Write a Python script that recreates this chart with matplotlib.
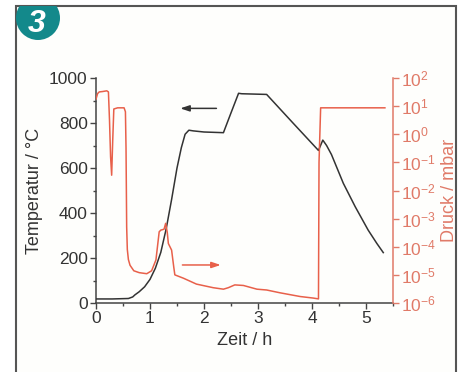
import math

import matplotlib

matplotlib.use("Agg")
import matplotlib.pyplot as plt
from matplotlib.patches import Circle, Rectangle
from matplotlib.ticker import FixedLocator, FuncFormatter, MultipleLocator

plt.rcParams["font.family"] = ["Liberation Sans", "DejaVu Sans"]
plt.rcParams["mathtext.fontset"] = "custom"
plt.rcParams["mathtext.rm"] = "Liberation Sans"

# temperature curve (left axis)
time_temp = [0, 0.3, 0.6, 0.68, 0.72, 0.8, 0.9, 1.0, 1.1, 1.2, 1.3, 1.4, 1.5, 1.58,
             1.65, 1.72, 1.8, 2.0, 2.36, 2.5, 2.64, 2.7, 3.16, 3.64, 4.12, 4.2, 4.27,
             4.36, 4.58, 4.8, 5.04, 5.2, 5.32]
temperature = [18, 18, 20, 27, 36, 50, 72, 105, 155, 225, 330, 460, 600, 690,
               750, 768, 765, 760, 757, 845, 932, 930, 927, 802, 678, 724, 700,
               660, 532, 428, 324, 265, 224]

# pressure curve (right axis, mbar)
time_press = [0, 0.03, 0.06, 0.12, 0.2, 0.23, 0.25, 0.27, 0.29, 0.31, 0.33, 0.4, 0.52,
              0.545, 0.556, 0.568, 0.58, 0.6, 0.63, 0.7, 0.8, 0.94, 1.03, 1.11, 1.17,
              1.2, 1.26, 1.29, 1.32, 1.34, 1.40, 1.44, 1.46, 1.62, 1.86, 2.17, 2.36,
              2.45, 2.57, 2.73, 2.98, 3.16, 3.41, 3.78, 4.02, 4.12, 4.13, 4.16, 5.35]
pressure = [17.8, 28, 32, 33, 35, 32, 3.2, 0.16, 0.035, 0.63, 7.9, 8.7, 8.7,
            6.3, 0.32, 5e-4, 8e-5, 3.5e-5, 2.2e-5, 1.4e-5, 1.2e-5, 1.1e-5, 1.4e-5, 3.4e-5, 3.4e-4,
            3.9e-4, 4.2e-4, 6.8e-4, 3.2e-4, 1.3e-4, 7.6e-5, 1.9e-5, 1.0e-5, 7.6e-6, 4.7e-6, 3.5e-6, 3.1e-6,
            3.5e-6, 4.4e-6, 4.2e-6, 3.1e-6, 2.9e-6, 2.3e-6, 1.7e-6, 1.5e-6, 1.4e-6, 0.1, 8.7, 8.7]

# direction arrows: (from x, to x, y in temperature units)
arrow_temp = (2.23, 1.56, 865)
arrow_press = (1.6, 2.31, 169)

press_ticks = [1e-6, 1e-5, 1e-4, 1e-3, 1e-2, 1e-1, 1e0, 1e1, 1e2]

BLACK = "#333333"
RED = "#e8604a"
RED_AX = "#e07a68"
TEAL = "#13898b"

fig = plt.figure(figsize=(4.65, 3.72), dpi=100)

# outer frame and number badge
frame = Rectangle((0.16, -0.2), 4.40, 3.86, transform=fig.dpi_scale_trans,
                  facecolor="#fefefc", edgecolor="#555555", linewidth=1.5, zorder=-2)
fig.patches.append(frame)
badge = Circle((0.38, 3.54), 0.22, transform=fig.dpi_scale_trans,
               facecolor=TEAL, edgecolor="none", zorder=-1)
fig.patches.append(badge)
badge.set_clip_path(frame)
fig.text(36.5 / 465, 1 - 24.5 / 372, "3", color="white", fontsize=23,
         fontweight="bold", fontstyle="italic", ha="center", va="center")

ax = fig.add_axes([96 / 465, 69 / 372, 297 / 465, 225 / 372])
ax.patch.set_alpha(0)
ax2 = ax.twinx()
ax2.patch.set_alpha(0)

ax.plot(time_temp, temperature, color=BLACK, linewidth=1.1, zorder=3)
ax2.plot(time_press, pressure, color=RED, linewidth=1.1)

ax.set_xlim(0, 5.5)
ax.set_ylim(0, 1000)
ax2.set_yscale("log")
ax2.set_ylim(1e-6, 1e2)

ax.xaxis.set_major_locator(MultipleLocator(1))
ax.xaxis.set_minor_locator(MultipleLocator(0.5))
ax.yaxis.set_major_locator(MultipleLocator(200))
ax.yaxis.set_minor_locator(MultipleLocator(100))
ax2.yaxis.set_major_locator(FixedLocator(press_ticks))
ax2.yaxis.set_minor_locator(FixedLocator([]))
ax2.yaxis.set_major_formatter(FuncFormatter(
    lambda v, pos: r"$\mathregular{10^{%d}}$" % round(math.log10(v))))

ax.spines["top"].set_visible(False)
ax2.spines["top"].set_visible(False)
for spine in ("left", "bottom"):
    ax.spines[spine].set_color("#444444")
    ax.spines[spine].set_linewidth(1.1)
ax.spines["right"].set_visible(False)
ax2.spines["left"].set_visible(False)
ax2.spines["bottom"].set_visible(False)
ax2.spines["right"].set_color(RED_AX)
ax2.spines["right"].set_linewidth(1.1)

ax.tick_params(which="major", direction="out", length=4, width=1, color="#444444",
               labelsize=12.5, labelcolor="#333333", pad=2)
ax.tick_params(which="minor", direction="out", length=2.5, width=1, color="#444444")
ax2.tick_params(which="major", direction="out", length=4, width=1, color=RED_AX,
                labelsize=12.5, labelcolor=RED_AX, pad=2)

ax.set_xlabel("Zeit / h", fontsize=13, color="#333333", labelpad=4)
ax.set_ylabel("Temperatur / °C", fontsize=13, color="#333333", labelpad=4)
ax2.set_ylabel("Druck / mbar", fontsize=13, color=RED_AX, labelpad=3)

ax.annotate("", xy=(arrow_temp[1], arrow_temp[2]), xytext=(arrow_temp[0], arrow_temp[2]),
            arrowprops=dict(arrowstyle="-|>,head_length=0.6,head_width=0.2", color=BLACK,
                            lw=1.1, mutation_scale=9, shrinkA=0, shrinkB=0))
ax.annotate("", xy=(arrow_press[1], arrow_press[2]), xytext=(arrow_press[0], arrow_press[2]),
            arrowprops=dict(arrowstyle="-|>,head_length=0.6,head_width=0.2", color=RED,
                            lw=1.1, mutation_scale=9, shrinkA=0, shrinkB=0))

fig.savefig("out.png", dpi=100, facecolor="white")
